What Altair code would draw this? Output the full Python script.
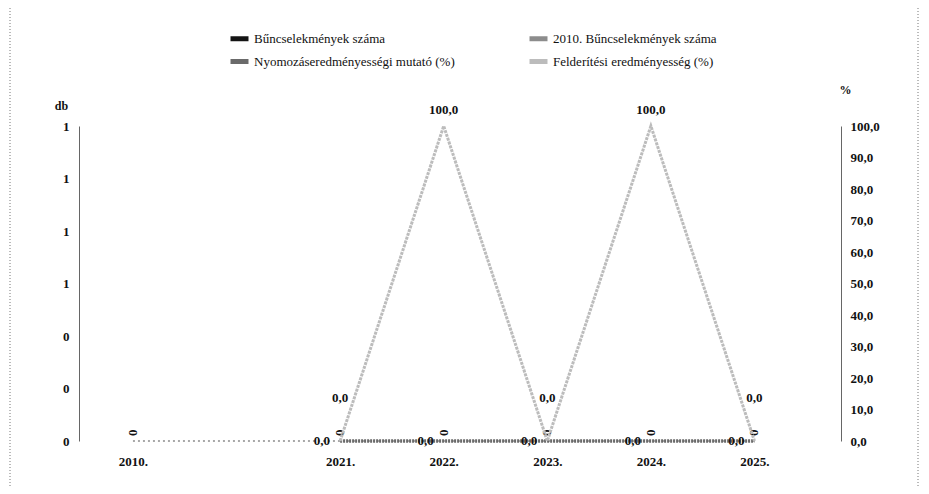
import altair as alt
import pandas as pd

categories = ["2010.", " ", "2021.", "2022.", "2023.", "2024.", "2025."]
crimes = [0, None, 0, 0, 0, 0, 0]
crimes_2010 = [0, 0, 0, 0, 0, 0, 0]
investigation = [None, None, 0.0, 0.0, 0.0, 0.0, 0.0]
detection = [None, None, 0.0, 100.0, 0.0, 100.0, 0.0]

series_names = [
    "Bűncselekmények száma",
    "2010. Bűncselekmények száma",
    "Nyomozáseredményességi mutató (%)",
    "Felderítési eredményesség (%)",
]
series_colors = ["#141414", "#8c8c8c", "#6a6a6a", "#bcbcbc"]
left_ticks = [0, 0.2, 0.4, 0.6, 0.8, 1.0, 1.2]
right_ticks = [0, 10, 20, 30, 40, 50, 60, 70, 80, 90, 100]

FONT = "Liberation Serif"


def frame(name, values):
    df = pd.DataFrame({"year": categories, "value": values, "series": name})
    return df.dropna()


x_enc = alt.X(
    "year:N",
    sort=categories,
    scale=alt.Scale(type="point", domain=categories, padding=0.678, align=0.384),
    axis=alt.Axis(
        title=None, domain=False, ticks=False, labelAngle=0, labelFont=FONT,
        labelFontSize=13, labelFontWeight="bold", labelColor="#111", labelPadding=14,
    ),
)

color_enc = alt.Color(
    "series:N",
    scale=alt.Scale(domain=series_names, range=series_colors),
    legend=alt.Legend(
        title=None, orient="none", legendX=149, legendY=-99, columns=2,
        direction="horizontal",
        symbolType="stroke", symbolStrokeWidth=5, symbolSize=324,
        labelFont=FONT, labelFontSize=13, labelColor="#111",
        columnPadding=64, rowPadding=1, labelOffset=3, labelLimit=300,
    ),
)

left_axis = alt.Axis(
    title="db", titleAngle=0, titleX=-18, titleY=-21, titleAlign="center",
    titleBaseline="middle", titleFont=FONT, titleFontSize=12, titleFontWeight="bold",
    titleColor="#111", values=left_ticks, format=".0f", labelFont=FONT,
    labelFontSize=13, labelFontWeight="bold", labelColor="#111", labelPadding=10,
    ticks=False, grid=False, domainColor="#666", orient="left",
)
right_axis = alt.Axis(
    title="%", titleAngle=0, titleX=4, titleY=-37, titleAlign="center",
    titleBaseline="middle", titleFont=FONT, titleFontSize=12, titleFontWeight="bold",
    titleColor="#111", values=right_ticks,
    labelExpr="replace(format(datum.value, '.1f'), '.', ',')", labelFont=FONT,
    labelFontSize=13, labelFontWeight="bold", labelColor="#111", labelPadding=9,
    ticks=False, grid=False, domainColor="#666", orient="right",
)

y_left = alt.Y("value:Q", scale=alt.Scale(domain=[0, 1.2], nice=False), axis=left_axis)
y_right = alt.Y("value:Q", scale=alt.Scale(domain=[0, 100], nice=False), axis=right_axis)

label_text = "replace(format(datum.value, '.1f'), '.', ',')"

line_2010 = alt.Chart(frame(series_names[1], crimes_2010)).mark_line(
    strokeWidth=1.5, strokeDash=[2, 3]
).encode(x=x_enc, y=y_left, color=color_enc)

bars = alt.Chart(frame(series_names[0], crimes)).mark_bar(size=22).encode(
    x=x_enc, y=y_left, color=color_enc
)

bar_labels = alt.Chart(frame(series_names[0], crimes)).mark_text(
    angle=270, align="left", baseline="middle", dx=5, font=FONT, fontSize=13,
    fontWeight="bold", color="#111",
).encode(x=x_enc, y=y_left, text=alt.Text("value:Q", format=".0f"))

left = alt.layer(line_2010, bars, bar_labels)

inv_line = alt.Chart(frame(series_names[2], investigation)).mark_line(
    strokeWidth=3.5, strokeDash=[2, 1]
).encode(x=x_enc, y=y_right, color=color_enc)

det_line = alt.Chart(frame(series_names[3], detection)).mark_line(
    strokeWidth=3, strokeDash=[3, 1]
).encode(x=x_enc, y=y_right, color=color_enc)

inv_labels = alt.Chart(frame(series_names[2], investigation)).transform_calculate(
    lab=label_text
).mark_text(
    align="right", baseline="middle", dx=-10, font=FONT, fontSize=13,
    fontWeight="bold", color="#111",
).encode(x=x_enc, y=y_right, text="lab:N")

det_labels_top = alt.Chart(frame(series_names[3], detection)).transform_filter(
    "datum.value > 0"
).transform_calculate(lab=label_text).mark_text(
    align="center", baseline="middle", dy=-16, font=FONT, fontSize=13,
    fontWeight="bold", color="#111",
).encode(x=x_enc, y=y_right, text="lab:N")

det_labels_zero = alt.Chart(frame(series_names[3], detection)).transform_filter(
    "datum.value == 0"
).transform_calculate(lab=label_text).mark_text(
    align="center", baseline="middle", dy=-43, font=FONT, fontSize=13,
    fontWeight="bold", color="#111",
).encode(x=x_enc, y=y_right, text="lab:N")

right = alt.layer(inv_line, det_line, inv_labels, det_labels_top, det_labels_zero)

frame_lines = alt.Chart(pd.DataFrame({"k": [0]})).mark_rule(
    color="#777", strokeDash=[1, 2], strokeWidth=1
)
frame_left = frame_lines.encode(x=alt.value(-69), y=alt.value(-118), y2=alt.value(360))
frame_right = frame_lines.encode(x=alt.value(839), y=alt.value(-118), y2=alt.value(360))

chart = alt.layer(left, right, frame_left, frame_right).resolve_scale(
    y="independent"
).properties(
    width=762,
    height=315,
    autosize=alt.AutoSizeParams(type="none"),
    padding={"left": 71, "top": 118, "right": 80, "bottom": 45},
    background="white",
).configure_view(stroke=None)

chart.save("out.html", embed_options={"renderer": "svg", "actions": False})
